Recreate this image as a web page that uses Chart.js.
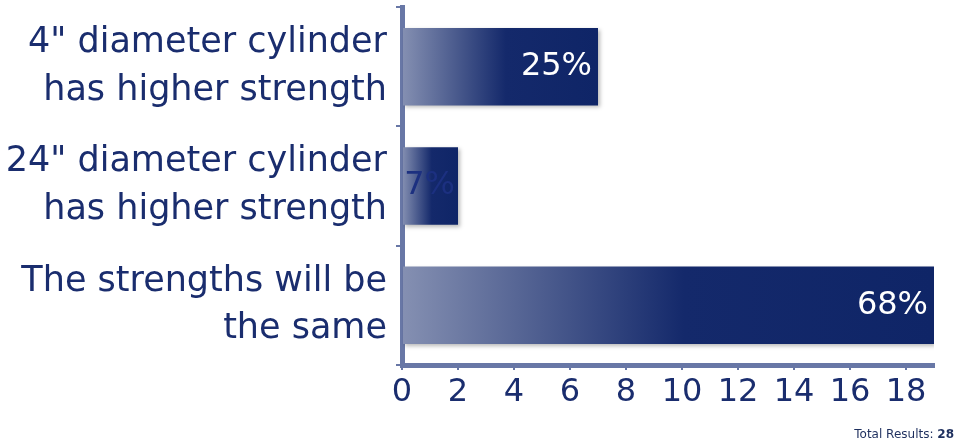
<!DOCTYPE html>
<html><head><meta charset="utf-8">
<script src="https://cdn.jsdelivr.net/npm/chart.js@4/dist/chart.umd.min.js"></script>
<style>
html,body{margin:0;padding:0;background:#fff;}
#wrap{position:relative;width:957px;height:444px;}
#total{position:absolute;right:3px;top:427px;font:12px "DejaVu Sans",sans-serif;color:#1e2f5e;white-space:nowrap;}
</style></head><body>
<div id="wrap"><canvas id="c" width="957" height="444"></canvas>
<div id="total"></div></div>
<script>
const categories = [
  ['4" diameter cylinder', 'has higher strength'],
  ['24" diameter cylinder', 'has higher strength'],
  ['The strengths will be', 'the same']
];
const counts = [7, 2, 19];
const totalResults = 28;
const xTickValues = [0, 2, 4, 6, 8, 10, 12, 14, 16, 18];
const xMax = 19;

document.getElementById('total').innerHTML = 'Total Results: <b>' + totalResults + '</b>';

const axisColor = '#6877a6';
const textColor = '#1a2d6e';
const FONT = 'DejaVu Sans';

const barPlugin = {
  id: 'barFx',
  beforeDatasetsDraw(chart) {
    const ctx = chart.ctx;
    ctx.save();
    ctx.shadowColor = 'rgba(0,0,0,0.28)';
    ctx.shadowBlur = 4;
    ctx.shadowOffsetX = 2;
    ctx.shadowOffsetY = 2;
  },
  afterDatasetsDraw(chart) {
    const ctx = chart.ctx;
    ctx.restore();
    const meta = chart.getDatasetMeta(0);
    ctx.save();
    ctx.font = '32px "' + FONT + '"';
    ctx.textAlign = 'right';
    ctx.textBaseline = 'middle';
    meta.data.forEach((bar, i) => {
      const txt = Math.round(counts[i] / totalResults * 100) + '%';
      const w = ctx.measureText(txt).width;
      const bw = bar.x - bar.base;
      const inside = bw > w + 14;
      ctx.fillStyle = inside ? '#ffffff' : '#1c3080';
      ctx.fillText(txt, bar.x - (inside ? 6 : 3), bar.y);
    });
    ctx.restore();
  }
};

new Chart(document.getElementById('c'), {
  type: 'bar',
  data: {
    labels: categories,
    datasets: [{
      data: counts,
      backgroundColor: (c) => {
        const chart = c.chart;
        if (!chart.chartArea || c.type !== 'data' || !chart.scales.x) return '#10266a';
        const x0 = chart.scales.x.getPixelForValue(0);
        const x1 = chart.scales.x.getPixelForValue(c.raw);
        const g = chart.ctx.createLinearGradient(x0, 0, x1, 0);
        g.addColorStop(0, '#8590b2');
        g.addColorStop(0.53, '#14296b');
        g.addColorStop(1, '#0f2567');
        return g;
      },
      borderWidth: 0,
      categoryPercentage: 0.65,
      barPercentage: 1
    }]
  },
  options: {
    indexAxis: 'y',
    responsive: false,
    devicePixelRatio: 1,
    animation: false,
    layout: { padding: { top: 7, right: 23, bottom: 29, left: 0 } },
    plugins: { legend: { display: false }, tooltip: { enabled: false } },
    scales: {
      x: {
        min: 0, max: xMax,
        afterBuildTicks: (s) => { s.ticks = xTickValues.map(v => ({ value: v })); },
        afterFit: (s) => { s.height = 50; s.paddingLeft = 0; s.paddingRight = 0; },
        grid: { drawOnChartArea: false, drawTicks: true, tickLength: 5, color: axisColor, lineWidth: 2 },
        border: { display: true, color: axisColor, width: 5 },
        ticks: { color: textColor, font: { family: FONT, size: 32 }, padding: 3, maxRotation: 0, autoSkip: false }
      },
      y: {
        afterFit: (s) => { s.width = 402; s.paddingTop = 0; s.paddingBottom = 0; },
        grid: { drawOnChartArea: false, drawTicks: true, tickLength: 6, color: axisColor, lineWidth: 2, offset: true },
        border: { display: true, color: axisColor, width: 5 },
        ticks: { color: textColor, font: { family: FONT, size: 35, lineHeight: 1.36 }, padding: 9 }
      }
    }
  },
  plugins: [barPlugin]
});
</script>
</body></html>
